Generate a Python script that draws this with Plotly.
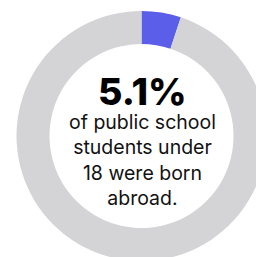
import plotly.graph_objects as go

labels = ["Born abroad", "Born in U.S."]
values = [5.1, 94.9]
colors = ["#5b5ee8", "#d4d4d6"]
headline = "5.1%"
body_lines = ["of public school", "students under", "18 were born", "abroad."]

W, H = 267, 261
ML, MT = 16, 11
PW, PH = W - ML, H - MT

def px(x):
    return (x - ML) / PW

def py(y):
    return 1 - (y - MT) / PH

fig = go.Figure(go.Pie(
    labels=labels, values=values, hole=0.736, sort=False,
    direction="clockwise", rotation=0,
    marker=dict(colors=colors, line=dict(width=0)),
    textinfo="none", hoverinfo="none", showlegend=False,
))

fig.add_annotation(x=px(142), y=py(91), xref="paper", yref="paper",
                   text=headline, showarrow=False, height=34,
                   xanchor="center", yanchor="middle",
                   font=dict(family="Inter", size=37.5, color="#000000", weight=800))
fig.add_annotation(x=px(142.5), y=py(160), xref="paper", yref="paper",
                   text="<br>".join(body_lines), showarrow=False,
                   xanchor="center", yanchor="middle", align="center",
                   font=dict(family="Inter", size=19.5, color="#111111", weight=400))

fig.update_layout(width=W, height=H,
                  margin=dict(l=ML, t=MT, r=0, b=0, pad=0),
                  paper_bgcolor="white", plot_bgcolor="white")

fig.write_html("out.html", config={"displayModeBar": False},
               post_script="document.body.style.margin='0';document.body.style.overflow='hidden';document.documentElement.style.overflow='hidden';")
